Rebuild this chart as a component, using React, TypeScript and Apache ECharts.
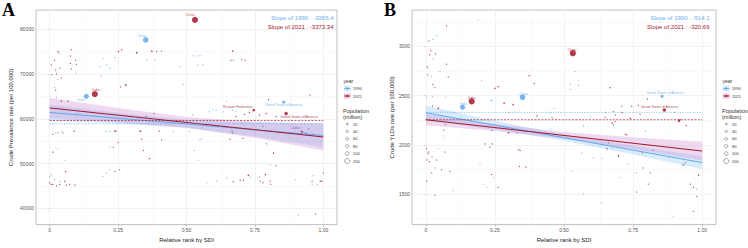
import React, { useEffect, useRef } from "react";
import * as echarts from "echarts";

// ---- axes ----
const xTicks = [0, 0.25, 0.5, 0.75, 1];
const xMinor = [0.125, 0.375, 0.625, 0.875];
const yTicksPrev = [40000, 50000, 60000, 70000, 80000];
const yMinorPrev = [45000, 55000, 65000, 75000];
const yTicksYld = [1500, 2000, 2500, 3000];
const yMinorYld = [1250, 1750, 2250, 2750, 3250];

// ---- crude prevalence rate: [relative SDI rank, rate, population (million)] ----
const prev1990: number[][] = [
  [0.03, 68770, 2], [0.018, 66980, 2], [0.025, 64820, 2], [0.098, 70220, 2], [0.195, 73460, 3],
  [0.238, 73670, 4], [0.208, 72010, 3], [0.189, 69500, 2], [0.183, 71660, 2], [0.22, 71300, 2],
  [0.476, 71660, 3], [0.488, 67690, 4], [0.354, 73090, 3], [0.385, 73090, 2], [0.524, 74100, 3],
  [0.537, 74040, 2], [0.549, 74170, 2], [0.542, 72010, 3], [0.56, 72160, 2], [0.647, 63950, 3],
  [0.597, 62010, 3], [0.634, 61580, 3], [0.523, 60860, 3], [0.584, 61580, 4], [0.608, 61940, 3],
  [0.669, 61940, 4], [0.681, 61580, 3], [0.51, 57260, 3], [0.791, 54510, 4], [0.205, 57260, 3],
  [0.022, 56890, 2], [0.559, 57970, 3], [0, 47170, 3], [0.006, 47540, 3], [0.055, 50780, 2],
  [0.03, 53300, 2], [0.043, 57260, 2], [0.195, 47170, 3], [0.208, 47900, 2], [0.22, 48620, 2],
  [0.22, 53650, 2], [0.037, 46090, 2], [0.018, 46460, 2], [0.22, 57260, 3], [0.452, 57260, 2],
  [0.527, 52940, 2], [0.543, 50780, 2], [0.549, 55460, 2], [0.556, 55460, 2], [0.733, 46950, 4],
  [0.766, 47040, 3], [0.794, 54380, 3], [0.806, 49700, 2], [0.611, 46090, 2], [0.909, 38530, 3],
  [0.959, 45380, 3], [0.979, 45230, 4], [0.964, 47320, 3], [0.897, 46460, 2], [0.934, 56890, 4],
  [0.769, 59270, 3], [0.574, 45740, 2], [0.647, 46820, 2], [0.1, 61200, 2], [0.3, 60400, 2],
  [0.42, 59900, 3], [0.7, 59100, 2], [0.9, 58200, 3],
];
const prev1990Named = [
  { name: "India", value: [0.134, 65030, 870] },
  { name: "China", value: [0.351, 77630, 1150] },
  { name: "United States of America", value: [0.855, 63740, 250] },
  { name: "", value: [0.938, 56760, 123] },
];
const prev2021: number[][] = [
  [0.03, 75030, 5], [0.034, 74690, 3], [0.018, 73090, 4], [0.006, 72010, 3], [0.022, 70930, 2],
  [0.037, 71300, 2], [0.007, 69850, 2], [0.025, 70000, 3], [0.043, 69140, 2], [0.079, 75400, 8],
  [0.076, 74040, 3], [0.095, 73090, 3], [0.076, 72380, 4], [0.079, 71150, 3], [0.098, 72160, 2],
  [0.252, 75030, 12], [0.263, 75400, 8], [0.318, 74750, 30], [0.373, 75120, 25], [0.391, 75030, 4],
  [0.409, 75120, 3], [0.278, 67560, 30], [0.259, 67130, 3], [0.022, 66390, 4], [0.043, 63950, 10],
  [0.067, 63950, 10], [0.669, 75120, 10], [0.662, 73090, 3], [0.671, 73090, 2], [0.702, 73240, 3],
  [0.714, 73090, 2], [0.8, 64320, 6], [0.952, 65310, 5], [0.791, 61210, 8], [0.767, 60860, 5],
  [0.828, 60500, 5], [0.712, 60990, 4], [0.73, 61430, 6], [0.089, 57260, 8], [0.242, 57260, 6],
  [0.333, 57260, 5], [0.669, 56890, 4], [0.962, 56540, 8], [0.779, 58340, 3], [0.681, 60500, 4],
  [0.352, 60500, 10], [0.382, 61210, 4], [0.012, 52570, 6], [0.03, 56890, 3], [0.049, 56890, 3],
  [0.012, 56540, 3], [0, 45740, 8], [0.006, 45380, 5], [0.012, 45380, 4], [0.025, 45010, 3],
  [0.037, 45380, 4], [0.055, 46090, 6], [0.061, 45230, 3], [0.073, 45380, 3], [0.092, 45230, 4],
  [0.058, 48250, 8], [0.238, 57260, 10], [0.232, 53650, 4], [0.25, 54730, 3], [0.33, 57260, 8],
  [0.336, 55460, 4], [0.342, 52940, 5], [0.364, 51140, 8], [0.4, 57260, 6], [0.409, 55310, 3],
  [0.256, 48620, 3], [0.238, 48250, 2], [0.666, 57260, 6], [0.659, 55460, 5], [0.706, 55680, 4],
  [0.818, 52350, 10], [0.827, 49550, 3], [0.726, 47390, 12], [0.788, 47540, 10], [0.696, 46310, 6],
  [0.708, 46310, 5], [0.671, 45960, 4], [0.769, 46090, 4], [0.779, 45740, 3], [0.806, 46090, 4],
  [0.808, 45380, 3], [0.971, 38750, 4], [0.989, 46090, 6], [0.995, 46090, 5], [1, 47900, 3],
  [0.959, 46090, 3], [0.946, 57750, 4],
];
const prev2021Named = [
  { name: "India", value: [0.165, 65530, 1410] },
  { name: "China", value: [0.531, 82100, 1420] },
  { name: "Russian Federation", value: [0.746, 61940, 145] },
  { name: "United States of America", value: [0.864, 61210, 335] },
  { name: "Japan", value: [0.922, 57110, 125] },
];

// ---- crude YLDs rate ----
const yld1990: number[][] = [
  [0.008, 2777, 2], [0.021, 2696, 2], [0.039, 3110, 2], [0.026, 3071, 2], [0.026, 2875, 2],
  [0.051, 2745, 2], [0.189, 3267, 3], [0.202, 2653, 3], [0.236, 2451, 6], [0.072, 2483, 2],
  [0.003, 2483, 2], [0.522, 2613, 3], [0.552, 2608, 3], [0.54, 2745, 2], [0.552, 2657, 2],
  [0.464, 2368, 2], [0.594, 2287, 2], [0.571, 2189, 4], [0.68, 2206, 5], [0.795, 2140, 4],
  [0.565, 1918, 3], [0.638, 1863, 3], [0.825, 1912, 3], [0.239, 2451, 3], [0.523, 2564, 2],
  [0.024, 2490, 2], [0.063, 2091, 3], [0.099, 1535, 2], [0.208, 1601, 2], [0.22, 1569, 2],
  [0.196, 1814, 2], [0.045, 1961, 2], [0.033, 1765, 2], [0.246, 1667, 2], [0.679, 2196, 4],
  [0.733, 1804, 4], [0.981, 1552, 4], [0.57, 1503, 2], [0.637, 1412, 2], [0.896, 1275, 3],
  [0.703, 1667, 2], [0.528, 1731, 2], [0.606, 1869, 2], [0.673, 1961, 2], [0.8, 1927, 2],
  [0.763, 1716, 2], [0.1, 2330, 2], [0.3, 2330, 2], [0.45, 2330, 2], [0.65, 2330, 2], [0.9, 2330, 2],
];
const yld1990Named = [
  { name: "India", value: [0.133, 2382, 870] },
  { name: "China", value: [0.35, 2483, 1150] },
  { name: "United States of America", value: [0.855, 2493, 250] },
  { name: "", value: [0.932, 1797, 123] },
];
const yld2021: number[][] = [
  [0.011, 3054, 4], [0.018, 2956, 3], [0.014, 2914, 3], [0.075, 3208, 4], [0.035, 2924, 2],
  [0.005, 2794, 4], [0.008, 2711, 3], [0.081, 2689, 5], [0.075, 2819, 3], [0.033, 2581, 3],
  [0.026, 2613, 3], [0.045, 2368, 5], [0.024, 2395, 4], [0.25, 2574, 12], [0.262, 2591, 8],
  [0.283, 2424, 20], [0.316, 2408, 15], [0.374, 2702, 10], [0.392, 2623, 6], [0.667, 2581, 8],
  [0.802, 2466, 4], [0.769, 2402, 5], [0.709, 2392, 4], [0.745, 2392, 4], [0.679, 2336, 5],
  [0.775, 2310, 5], [0.92, 2255, 10], [0.046, 2375, 8], [0.07, 2206, 6], [0.022, 2245, 4],
  [0.239, 2147, 5], [0.3, 2123, 5], [0.354, 2140, 8], [0.402, 2294, 6], [0.457, 2277, 4],
  [0.74, 2270, 15], [0.916, 2245, 125], [0.942, 2196, 8], [0.686, 2304, 4], [0.71, 2326, 4],
  [0.674, 2221, 10], [0.722, 2108, 6], [0.656, 1961, 10], [0.698, 1885, 5], [0.783, 1918, 8],
  [0.879, 1878, 4], [0.939, 1820, 4], [0.239, 2010, 4], [0.336, 1951, 5], [0.01, 1927, 3],
  [0.022, 1878, 3], [0.004, 1846, 3], [0.014, 1829, 3], [0.003, 1961, 3], [0.008, 1912, 3],
  [0.039, 1846, 3], [0.057, 1748, 3], [0.033, 1486, 3], [0.087, 1731, 4], [0.069, 1927, 3],
  [0.065, 2150, 4], [0.214, 2010, 4], [0.232, 1976, 3], [0.262, 1569, 3], [0.238, 1699, 3],
  [0.329, 2123, 4], [0.298, 2123, 3], [0.341, 1944, 3], [0.338, 1780, 5], [0.362, 1775, 5],
  [0.003, 1633, 3], [0.021, 1716, 3], [0.697, 1895, 4], [0.787, 1765, 6], [0.805, 1601, 4],
  [0.987, 1692, 8], [0.968, 1569, 5], [0.981, 1477, 4], [0.968, 1324, 4], [0.727, 2101, 6],
  [0.812, 1716, 3], [0.661, 2020, 4], [0.649, 2277, 3], [0.685, 2238, 3], [0.824, 1944, 3],
  [0.763, 1520, 3], [0.957, 1601, 3],
];
const yld2021Named = [
  { name: "India", value: [0.166, 2441, 1410] },
  { name: "China", value: [0.532, 2931, 1420] },
  { name: "United States of America", value: [0.863, 2353, 335] },
];

// ---- linear fits, 95% bands [rank, lower, upper], and reference levels ----
const fitPrev1990 = [[0, 61430], [1, 56290]];
const fitPrev2021 = [[0, 62440], [1, 55960]];
const bandPrev1990 = [[0, 59630, 63230], [0.25, 58945, 61345], [0.5, 57960, 59760], [0.75, 56075, 59075], [1, 53690, 58890]];
const bandPrev2021 = [[0, 60140, 64740], [0.25, 59220, 62420], [0.5, 58000, 60400], [0.75, 55780, 59380], [1, 52960, 58960]];
const refPrev = [58920, 59630];

const fitYld1990 = [[0, 2326], [1, 1820]];
const fitYld2021 = [[0, 2255], [1, 1937]];
const bandYld1990 = [[0, 2251, 2401], [0.25, 2155, 2245], [0.5, 2043, 2103], [0.75, 1902, 1992], [1, 1755, 1885]];
const bandYld2021 = [[0, 2200, 2310], [0.25, 2141, 2211], [0.5, 2061, 2131], [0.75, 1957, 2077], [1, 1842, 2032]];
const refYld = [2330, 2255];

const slopesPrev = ["-3265.4", "-3373.34"];
const slopesYld = ["-514.1", "-320.69"];
const years = ["1990", "2021"];
const popLegend = [20, 40, 60, 80, 100, 200];

const C90 = "#62a8ec";
const C21 = "#a3162b";
const FONT = "Liberation Sans, Arial, sans-serif";

const labelOffsets: Record<string, Record<string, number[]>> = {
  prev1990: { China: [-4, -3.4], India: [-5, 3.7], "United States of America": [0, 3.3] },
  prev2021: { China: [-5, -5], India: [1, -3.7], "Russian Federation": [-16, -3.3], "United States of America": [13, 3.3], Japan: [-6, -3.4] },
  yld1990: { India: [1, -3.6], China: [1, -3.5], "United States of America": [3, -3.3] },
  yld2021: { India: [0, -3.6], China: [-1, -3.3], "United States of America": [-5, -3.3] },
};

const sizeOf = (v: number[]) => 0.9 + 0.14 * Math.sqrt(v[2]);

function scatterSeries(idx: number, plain: number[][], named: any[], color: string, key: string, z: number) {
  const offs = labelOffsets[key];
  const data: any[] = plain.map((d) => d.slice());
  named.forEach((n) => {
    data.push(
      n.name
        ? { name: n.name, value: n.value, label: { show: true, offset: offs[n.name] || [0, -3] } }
        : { value: n.value }
    );
  });
  return {
    type: "scatter",
    xAxisIndex: idx,
    yAxisIndex: idx,
    data,
    symbolSize: sizeOf,
    itemStyle: { color, opacity: 0.85 },
    label: { show: false, position: "inside", formatter: "{b}", fontSize: 3.4, color, fontFamily: FONT },
    silent: true,
    z,
  };
}

function bandSeries(idx: number, band: number[][], fill: string) {
  return {
    type: "custom",
    xAxisIndex: idx,
    yAxisIndex: idx,
    data: band,
    encode: { x: 0, y: [1, 2] },
    silent: true,
    z: 4,
    renderItem: (params: any, api: any) => {
      if (params.dataIndex !== 0) return null;
      const upper = band.map((b) => api.coord([b[0], b[2]]));
      const lower = band.map((b) => api.coord([b[0], b[1]])).reverse();
      return { type: "polygon", shape: { points: upper.concat(lower) }, style: { fill, stroke: "none" } };
    },
  };
}

function lineSeries(idx: number, data: number[][], color: string, z: number, type: any = "solid", width = 1) {
  return {
    type: "line",
    xAxisIndex: idx,
    yAxisIndex: idx,
    data,
    symbol: "none",
    silent: true,
    lineStyle: { color, width, type },
    z,
  };
}

function gridLines(idx: number, yMajor: number[], yMinor: number[]) {
  const major = { color: "#e9e9e9", width: 0.6, type: "solid" };
  const minor = { color: "#f3f3f3", width: 0.5, type: "solid" };
  return {
    type: "line",
    xAxisIndex: idx,
    yAxisIndex: idx,
    data: [],
    silent: true,
    z: 1,
    markLine: {
      silent: true,
      symbol: "none",
      z: 1,
      label: { show: false },
      animation: false,
      data: [
        ...xMinor.map((v) => ({ xAxis: v, lineStyle: minor })),
        ...yMinor.map((v) => ({ yAxis: v, lineStyle: minor })),
        ...xTicks.map((v) => ({ xAxis: v, lineStyle: major })),
        ...yMajor.map((v) => ({ yAxis: v, lineStyle: major })),
      ],
    },
  };
}

function xAxis(idx: number) {
  return {
    type: "value",
    gridIndex: idx,
    min: -0.05,
    max: 1.05,
    axisLine: { show: false },
    splitLine: { show: false },
    axisTick: { show: true, length: 2, customValues: xTicks, lineStyle: { color: "#8c8c8c", width: 0.6 } },
    axisLabel: {
      customValues: xTicks,
      formatter: (v: number) => (v === 0 ? "0" : v.toFixed(2)),
      fontSize: 5,
      color: "#555",
      margin: 2.5,
      fontFamily: FONT,
    },
    name: "Relative rank by SDI",
    nameLocation: "middle",
    nameGap: 10,
    nameTextStyle: { fontSize: 6, color: "#222", fontFamily: FONT },
  };
}

function yAxis(idx: number, min: number, max: number, ticks: number[], name: string, gap: number) {
  return {
    type: "value",
    gridIndex: idx,
    min,
    max,
    axisLine: { show: false },
    splitLine: { show: false },
    axisTick: { show: true, length: 2, customValues: ticks, lineStyle: { color: "#8c8c8c", width: 0.6 } },
    axisLabel: {
      customValues: ticks,
      formatter: (v: number) => String(v),
      fontSize: 5,
      color: "#555",
      margin: 2,
      fontFamily: FONT,
    },
    name,
    nameLocation: "middle",
    nameGap: gap,
    nameTextStyle: { fontSize: 6, color: "#222", fontFamily: FONT },
  };
}

function legendGraphics(x: number): any[] {
  const els: any[] = [];
  const txt = (tx: number, ty: number, text: string, size: number) => ({
    type: "text",
    x: tx,
    y: ty,
    style: { text, fontSize: size, fill: "#333", fontFamily: FONT, verticalAlign: "middle", align: "left" },
  });
  els.push(txt(x, 80.7, "year", 5));
  const keys = [
    { y: 88.5, fill: "rgba(110,180,240,0.3)", color: C90 },
    { y: 96, fill: "rgba(200,90,170,0.3)", color: C21 },
  ];
  keys.forEach((k, i) => {
    els.push({ type: "rect", shape: { x: x + 0.5, y: k.y - 2.8, width: 6.5, height: 5.6 }, style: { fill: k.fill } });
    els.push({ type: "line", shape: { x1: x + 0.5, y1: k.y, x2: x + 7, y2: k.y }, style: { stroke: k.color, lineWidth: 0.8 } });
    els.push({ type: "circle", shape: { cx: x + 3.75, cy: k.y, r: 1.1 }, style: { fill: k.color } });
    els.push(txt(x + 9.5, k.y, years[i], 4));
  });
  els.push(txt(x - 0.5, 110.5, "Population", 5.5));
  els.push(txt(x - 0.5, 116.7, "(million)", 5.5));
  popLegend.forEach((p, i) => {
    const cy = 124 + i * 7.4;
    els.push({
      type: "circle",
      shape: { cx: x + 3.7, cy, r: 0.2 + 0.165 * Math.sqrt(p) },
      style: { fill: "none", stroke: "#555", lineWidth: 0.5 },
    });
    els.push(txt(x + 9.5, cy, String(p), 4));
  });
  return els;
}

function slopeGraphics(right: number, slopes: string[]): any[] {
  return [
    {
      type: "text",
      x: right,
      y: 18.3,
      style: { text: `Slope of ${years[0]} : ${slopes[0]}`, fontSize: 6, fill: "#6aaef0", fontFamily: FONT, align: "right", verticalAlign: "middle" },
      z: 20,
    },
    {
      type: "text",
      x: right,
      y: 26.7,
      style: { text: `Slope of ${years[1]} : ${slopes[1]}`, fontSize: 6, fill: "#a3222f", fontFamily: FONT, align: "right", verticalAlign: "middle" },
      z: 20,
    },
  ];
}

export default function App() {
  const ref = useRef<HTMLDivElement>(null);

  useEffect(() => {
    if (!ref.current) return;
    const chart = echarts.init(ref.current, undefined, { renderer: "svg" });
    const fill90 = "rgba(120,185,240,0.28)";
    const fill21 = "rgba(195,110,200,0.26)";
    const option: any = {
      animation: false,
      backgroundColor: "#fff",
      textStyle: { fontFamily: FONT },
      grid: [
        { left: 36, top: 10, width: 301, height: 222, show: true, borderColor: "#b0b0b0", borderWidth: 0.8, containLabel: false },
        { left: 412, top: 10, width: 304, height: 222, show: true, borderColor: "#b0b0b0", borderWidth: 0.8, containLabel: false },
      ],
      xAxis: [xAxis(0), xAxis(1)],
      yAxis: [
        yAxis(0, 36400, 84300, yTicksPrev, "Crude Prevalence rate (per 100,000)", 22),
        yAxis(1, 1190, 3370, yTicksYld, "Crude YLDs rate (per 100,000)", 17),
      ],
      series: [
        gridLines(0, yTicksPrev, yMinorPrev),
        gridLines(1, yTicksYld, yMinorYld),
        scatterSeries(0, prev1990, prev1990Named, C90, "prev1990", 2),
        scatterSeries(0, prev2021, prev2021Named, C21, "prev2021", 3),
        scatterSeries(1, yld1990, yld1990Named, C90, "yld1990", 2),
        scatterSeries(1, yld2021, yld2021Named, C21, "yld2021", 3),
        bandSeries(0, bandPrev1990, fill90),
        bandSeries(0, bandPrev2021, fill21),
        bandSeries(1, bandYld1990, fill90),
        bandSeries(1, bandYld2021, fill21),
        lineSeries(0, fitPrev1990, C90, 5),
        lineSeries(0, fitPrev2021, C21, 5),
        lineSeries(1, fitYld1990, C90, 5),
        lineSeries(1, fitYld2021, C21, 5),
        lineSeries(0, [[0, refPrev[0]], [1, refPrev[0]]], C90, 5, [1, 1.4], 0.8),
        lineSeries(0, [[0, refPrev[1]], [1, refPrev[1]]], C21, 5, [2, 1.4], 0.7),
        lineSeries(1, [[0, refYld[0]], [1, refYld[0]]], C90, 5, [1, 1.4], 0.8),
        lineSeries(1, [[0, refYld[1]], [1, refYld[1]]], C21, 5, [2, 1.4], 0.7),
      ],
      graphic: [
        {
          type: "text",
          x: 2,
          y: 1,
          style: { text: "A", fontSize: 18, fontWeight: "bold", fill: "#000", fontFamily: "Liberation Serif, serif" },
        },
        {
          type: "text",
          x: 384,
          y: 1,
          style: { text: "B", fontSize: 18, fontWeight: "bold", fill: "#000", fontFamily: "Liberation Serif, serif" },
        },
        ...slopeGraphics(333.5, slopesPrev),
        ...slopeGraphics(709.5, slopesYld),
        ...legendGraphics(343.5),
        ...legendGraphics(722.5),
      ],
    };
    chart.setOption(option);
    return () => chart.dispose();
  }, []);

  return <div ref={ref} style={{ position: "fixed", left: 0, top: 0, width: 748, height: 248 }} />;
}
